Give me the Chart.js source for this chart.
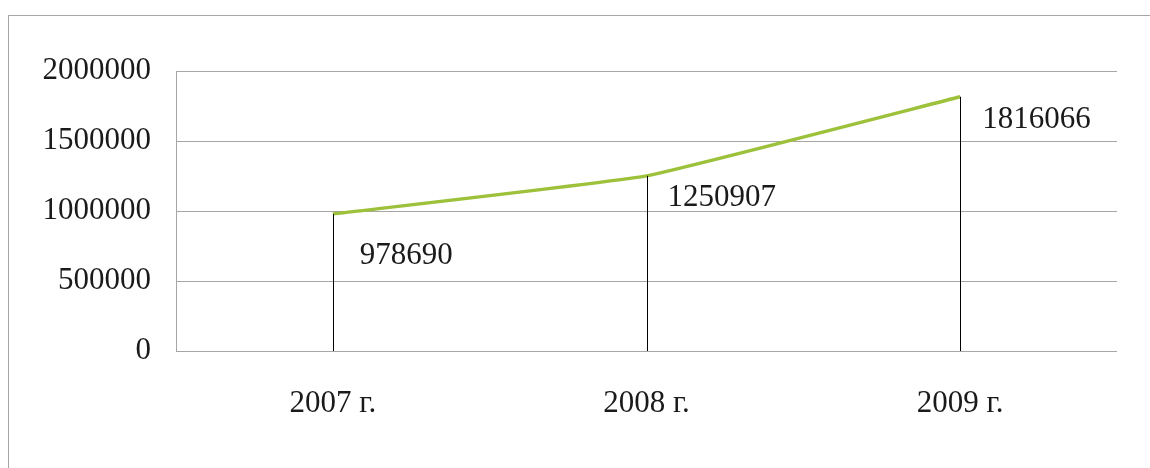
<!DOCTYPE html>
<html>
<head>
<meta charset="utf-8">
<script src="https://cdn.jsdelivr.net/npm/chart.js@4.4.1/dist/chart.umd.min.js"></script>
<style>
  html, body { margin: 0; padding: 0; background: #fff; }
  #wrap { position: relative; width: 1150px; height: 468px; overflow: hidden; }
  #frame {
    position: absolute; left: 8px; top: 15px; width: 1200px; height: 500px;
    border-left: 1px solid #a6a6a6; border-top: 1px solid #a6a6a6;
  }
  canvas { position: absolute; left: 0; top: 0; }
</style>
</head>
<body>
<div id="wrap">
  <div id="frame"></div>
  <canvas id="chart" width="1150" height="468"></canvas>
</div>
<script>
// ---------- Data ----------
const years = ["2007 г.", "2008 г.", "2009 г."];
const values = [978690, 1250907, 1816066];
const yTicks = [0, 500000, 1000000, 1500000, 2000000];

const FONT = "'Liberation Serif', 'Times New Roman', serif";

// drop lines from each point down to the category axis
const dropLines = {
  id: "dropLines",
  afterDatasetsDraw(chart) {
    const { ctx, scales: { y } } = chart;
    const meta = chart.getDatasetMeta(0);
    ctx.save();
    ctx.strokeStyle = "#000";
    ctx.lineWidth = 1;
    meta.data.forEach(pt => {
      const x = Math.round(pt.x) + 0.5;
      ctx.beginPath();
      ctx.moveTo(x, pt.y);
      ctx.lineTo(x, y.getPixelForValue(0));
      ctx.stroke();
    });
    ctx.restore();
  }
};

// value labels to the lower right of each point
const valueLabels = {
  id: "valueLabels",
  afterDatasetsDraw(chart) {
    const { ctx } = chart;
    const meta = chart.getDatasetMeta(0);
    const offs = [[27, 42], [21, 22], [22, 23]];
    ctx.save();
    ctx.font = "31px " + FONT;
    ctx.fillStyle = "#1a1a1a";
    ctx.textAlign = "left";
    ctx.textBaseline = "middle";
    meta.data.forEach((pt, i) => {
      ctx.fillText(String(values[i]), pt.x + offs[i][0], pt.y + offs[i][1]);
    });
    ctx.restore();
  }
};

new Chart(document.getElementById("chart"), {
  type: "line",
  data: {
    labels: years,
    datasets: [{
      data: values,
      borderColor: "#9dc13b",
      borderWidth: 3.5,
      pointRadius: 0,
      tension: 0.1,
      fill: false
    }]
  },
  options: {
    responsive: false,
    animation: false,
    layout: { padding: { top: 71, right: 33, left: 0, bottom: 0 } },
    plugins: { legend: { display: false }, tooltip: { enabled: false } },
    scales: {
      x: {
        offset: true,
        grid: { display: false },
        border: { display: false },
        ticks: { color: "#1a1a1a", font: { family: FONT, size: 31 }, padding: 26, maxRotation: 0 },
        afterFit(scale) { scale.height = 117; }
      },
      y: {
        min: 0,
        max: 2000000,
        afterBuildTicks(scale) { scale.ticks = yTicks.map(v => ({ value: v })); },
        grid: { color: "#a6a6a6", drawTicks: false },
        border: { display: true, color: "#a6a6a6" },
        ticks: {
          color: "#1a1a1a",
          font: { family: FONT, size: 31 },
          padding: 25,
          callback: v => String(v)
        },
        afterFit(scale) { scale.width = 176; }
      }
    }
  },
  plugins: [dropLines, valueLabels]
});
</script>
</body>
</html>
